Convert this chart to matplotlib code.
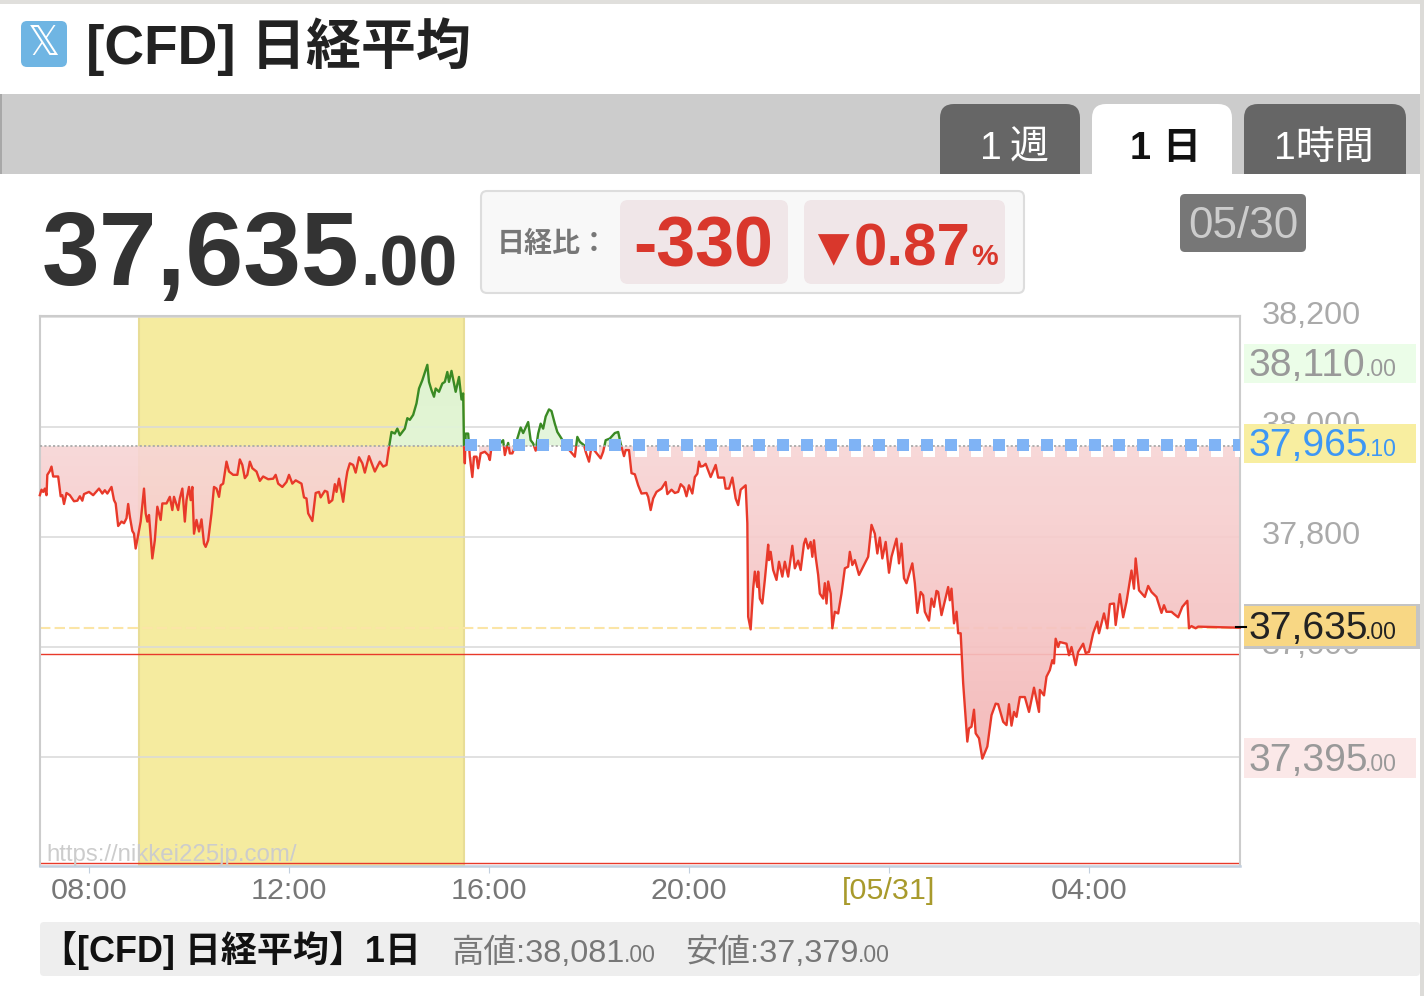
"""[CFD] Nikkei 225 one-day intraday panel, 05/30 07:01 to 05/31 07:01."""
import matplotlib
matplotlib.use("Agg")
import matplotlib.pyplot as plt
import numpy as np
from matplotlib.patches import FancyBboxPatch, Rectangle
from matplotlib.path import Path
from matplotlib.transforms import ScaledTranslation

# minutes since 05/30 00:00, and price
minutes = [
    421, 423, 425, 427, 429, 430, 433, 435, 437, 443, 446, 448, 450, 453, 457, 462, 466, 469, 472, 474,
    480, 485, 492, 496, 499, 502, 507, 510, 512, 515, 519, 522, 525, 527, 529, 532, 534, 536, 539, 542,
    546, 548, 550, 552, 556, 559, 562, 566, 568, 573, 577, 580, 582, 587, 589, 592, 595, 597, 600, 602,
    604, 606, 609, 612, 615, 618, 620, 623, 627, 630, 633, 636, 638, 641, 645, 648, 653, 658, 661, 664,
    667, 670, 673, 676, 681, 685, 689, 695, 701, 704, 707, 712, 717, 720, 724, 728, 735, 738, 741, 743,
    748, 752, 756, 758, 763, 766, 768, 772, 775, 777, 780, 785, 788, 790, 793, 797, 800, 804, 808, 811,
    816, 823, 829, 833, 837, 840, 843, 847, 850, 853, 859, 862, 865, 869, 873, 876, 880, 886, 888, 891,
    894, 896, 900, 904, 907, 910, 912, 915, 920, 924, 927, 929, 930,
    931, 932, 935, 937, 940, 942, 945, 947, 950, 955, 959, 961, 963, 967, 973, 977, 979, 981, 983, 985,
    988, 991, 998, 1001, 1007, 1010, 1013, 1016, 1019, 1022, 1025, 1028, 1032, 1035, 1039, 1042, 1047,
    1053, 1063, 1066, 1069, 1074, 1076, 1080, 1083, 1094, 1097, 1100, 1105, 1111, 1115, 1118, 1122, 1124,
    1128, 1131, 1135, 1139, 1143, 1149, 1151, 1154, 1157, 1161, 1167, 1172, 1174, 1179, 1183, 1187, 1190,
    1194, 1197, 1200, 1204, 1207, 1210, 1212, 1214, 1217, 1220, 1226, 1232, 1235, 1242, 1244, 1248, 1252,
    1256, 1259, 1262, 1268, 1270, 1271, 1274, 1277, 1279, 1282, 1283, 1285, 1288, 1291, 1295, 1296, 1298,
    1301, 1305, 1308, 1312, 1315, 1319, 1324, 1327, 1331, 1334, 1338, 1340, 1343, 1346, 1348, 1350, 1352,
    1355, 1357, 1361, 1363, 1365, 1367, 1370, 1372, 1375, 1379, 1383, 1387, 1391, 1393, 1396, 1399, 1404,
    1411, 1415, 1419, 1423, 1426, 1429, 1432, 1436, 1440, 1443, 1449, 1452, 1455, 1458, 1461, 1468, 1471,
    1474, 1478, 1481, 1483, 1488, 1491, 1494, 1497, 1499, 1503, 1511, 1513, 1515, 1518, 1521, 1523, 1526,
    1529, 1534, 1536, 1539, 1542, 1544, 1548, 1552, 1558, 1563, 1568, 1571, 1577, 1581, 1584, 1587, 1590,
    1593, 1597, 1603, 1608, 1614, 1620, 1621, 1626, 1629, 1633, 1636, 1638, 1640, 1643, 1645, 1653, 1656,
    1659, 1664, 1667, 1673, 1676, 1680, 1685, 1690, 1692, 1698, 1702, 1705, 1710, 1712, 1717, 1721, 1725,
    1731, 1734, 1736, 1740, 1747, 1751, 1755, 1761, 1767, 1770, 1773, 1779, 1782, 1787, 1792, 1798, 1800,
    1803, 1808, 1811, 1861,
]
prices = [
    37876, 37886, 37882, 37888, 37876, 37913, 37920, 37928, 37910, 37910, 37874, 37876, 37860, 37880, 37876, 37865, 37866, 37874, 37866, 37878,
    37882, 37876, 37888, 37879, 37885, 37879, 37891, 37867, 37861, 37820, 37828, 37825, 37834, 37860, 37837, 37811, 37806, 37779, 37803, 37828,
    37888, 37843, 37828, 37840, 37761, 37794, 37855, 37831, 37861, 37861, 37873, 37849, 37873, 37849, 37870, 37888, 37828, 37867, 37891, 37867,
    37891, 37806, 37831, 37810, 37832, 37788, 37782, 37794, 37843, 37891, 37888, 37873, 37894, 37897, 37937, 37919, 37913, 37913, 37941, 37931,
    37907, 37913, 37937, 37925, 37919, 37902, 37910, 37905, 37906, 37913, 37897, 37891, 37900, 37913, 37897, 37903, 37897, 37872, 37870, 37843,
    37829, 37880, 37882, 37872, 37884, 37882, 37862, 37867, 37896, 37882, 37906, 37864, 37900, 37919, 37934, 37931, 37917, 37945, 37934, 37917,
    37947, 37919, 37937, 37928, 37931, 37963, 37991, 37988, 37997, 37985, 37997, 38016, 38013, 38022, 38043, 38070, 38085, 38113, 38082, 38067,
    38055, 38070, 38064, 38079, 38082, 38100, 38082, 38102, 38064, 38091, 38050, 38061, 37964,
    37934, 37988, 37988, 37946, 37909, 37946, 37946, 37925, 37952, 37955, 37949, 37940, 37964, 37976, 37970, 37976, 37949, 37961, 37971, 37952,
    37952, 37964, 37999, 37989, 38009, 37976, 37970, 37957, 37988, 38006, 37997, 38019, 38032, 38029, 38006, 37991, 37979,
    37964, 37946, 37982, 37973, 37967, 37955, 37937, 37964, 37943, 37955, 37976, 37979, 37989, 37991, 37970, 37947, 37958,
    37958, 37916, 37914, 37894, 37879, 37880, 37873, 37849, 37870, 37882, 37888, 37900, 37878, 37886, 37880, 37882, 37896,
    37890, 37874, 37894, 37879, 37909, 37915, 37937, 37928, 37929, 37933, 37909, 37931, 37908, 37908, 37888, 37888, 37908,
    37870, 37858, 37886, 37894, 37825, 37655, 37632, 37706, 37737, 37709, 37737, 37688, 37679, 37722, 37786, 37758, 37773,
    37740, 37722, 37755, 37728, 37755, 37728, 37784, 37743, 37757, 37740, 37788, 37797, 37779, 37791, 37764, 37794, 37764,
    37731, 37697, 37688, 37716, 37679, 37719, 37697, 37634, 37664, 37661, 37697, 37743, 37746, 37773, 37749, 37758, 37731,
    37752, 37764, 37822, 37806, 37770, 37799, 37761, 37791, 37735, 37764, 37797, 37752, 37788, 37725, 37716, 37752, 37716,
    37662, 37700, 37694, 37664, 37648, 37688, 37673, 37702, 37700, 37658, 37709, 37685, 37706, 37643, 37664, 37625, 37625,
    37534, 37428, 37452, 37455, 37486, 37443, 37434, 37397, 37419, 37476, 37497, 37496, 37464, 37458, 37496, 37457, 37482,
    37473, 37509, 37509, 37482, 37526, 37482, 37522, 37512, 37546, 37558, 37576, 37570, 37615, 37600, 37609, 37606, 37585,
    37600, 37567, 37591, 37606, 37589, 37591, 37625, 37646, 37625, 37661, 37634, 37678, 37679, 37640, 37696, 37654, 37682,
    37739, 37706, 37761, 37703, 37691, 37711, 37700, 37691, 37662, 37676, 37664, 37664, 37660, 37654, 37673, 37684, 37634,
    37638, 37634, 37637, 37635,
]

prev_close = 37965.10
last_price = 37635.00
red_levels = [37587, 37208]
session_start, session_end = 540, 930  # 09:00 - 15:30

y_ticks = [37400, 37600, 37800, 38000, 38200]
x_ticks = [480, 720, 960, 1200, 1440, 1680]
x_tick_labels = ["08:00", "12:00", "16:00", "20:00", "[05/31]", "04:00"]

W, H = 1424, 996
RED = "#e8392a"
GREEN = "#3a8a24"

plt.rcParams["font.family"] = ["Liberation Sans", "Noto Sans CJK JP", "DejaVu Sans"]


def txt(ax, x, y, s, px, color, weight="normal", ha="left", va="baseline", **kw):
    # sizes are given as em height in image pixels
    return ax.text(x, y, s, fontsize=px * 0.72, color=color, fontweight=weight, ha=ha, va=va, **kw)


def box(ax, x0, y0, x1, y1, color, r=0, edge="none", lw=0, z=1):
    if r:
        p = FancyBboxPatch((x0 + r, y0 + r), x1 - x0 - 2 * r, y1 - y0 - 2 * r,
                           boxstyle=f"round,pad={r},rounding_size={r}",
                           fc=color, ec=edge, lw=lw, zorder=z)
    else:
        p = Rectangle((x0, y0), x1 - x0, y1 - y0, fc=color, ec=edge, lw=lw, zorder=z)
    ax.add_patch(p)
    return p


def gradient_fill(ax, t, p, where, c_base, c_far, v_far):
    # colour gradient from prev_close to v_far, clipped to the area under the curve
    poly = ax.fill_between(t, p, prev_close, where=where, interpolate=True, color="none", lw=0)
    clip = Path.make_compound_path(*poly.get_paths())
    low, high = sorted([prev_close, v_far])
    frac = np.linspace(0, 1, 256) if v_far > prev_close else np.linspace(1, 0, 256)
    img = np.zeros((256, 1, 4))
    for i in range(3):
        img[:, 0, i] = (c_base[i] + (c_far[i] - c_base[i]) * frac) / 255
    img[:, 0, 3] = 0.92
    im = ax.imshow(img, aspect="auto", origin="lower", zorder=2.5,
                   extent=[t[0], t[-1], low, high], interpolation="bilinear")
    im.set_clip_path(clip, transform=ax.transData)


fig = plt.figure(figsize=(W / 100, H / 100), dpi=100, facecolor="white")

# --- page furniture -----------------------------------------------------------
bg = fig.add_axes([0, 0, 1, 1], zorder=0)
bg.set_xlim(0, W)
bg.set_ylim(H, 0)
bg.axis("off")

box(bg, 0, 0, W, 4, "#e0dfdc")
box(bg, 1420, 0, W, H, "#dcdbd8", z=5)
box(bg, 0, 94, 1420, 174, "#cccccc")
box(bg, 0, 94, 2, 174, "#a8a8a8")
box(bg, 940, 104, 1080, 200, "#666666", r=14, z=2)
box(bg, 1092, 104, 1232, 200, "white", r=14, z=2)
box(bg, 1244, 104, 1406, 200, "#666666", r=14, z=2)
box(bg, 0, 174, 1420, H, "white", z=3)
box(bg, 1092, 165, 1232, 180, "white", z=3)

box(bg, 21, 21, 67, 67, "#6fb5e3", r=6, z=2)
txt(bg, 44, 44, "\U0001D54F", 40, "white", ha="center", va="center", family="DejaVu Sans", zorder=4)
txt(bg, 86, 64, "[CFD] 日経平均", 55, "#222222", weight="bold", zorder=4)

txt(bg, 980, 159, "1", 39, "white", zorder=4)
txt(bg, 1010, 159, "週", 39, "white", zorder=4)
txt(bg, 1130, 159, "1", 38, "#111111", weight="bold", zorder=4)
txt(bg, 1162, 159, "日", 38, "#111111", weight="bold", zorder=4)
txt(bg, 1274, 159, "1時間", 39, "white", zorder=4)

txt(bg, 42, 285, "37,635", 104, "#333333", weight="bold", zorder=4)
txt(bg, 360, 285, ".00", 70, "#333333", weight="bold", zorder=4)

box(bg, 481, 191, 1024, 293, "#f8f8f8", r=6, edge="#dddddd", lw=1.5, z=4)
box(bg, 620, 200, 788, 284, "#f0e6e8", r=8, z=5)
box(bg, 804, 200, 1005, 284, "#f0e6e8", r=8, z=5)
txt(bg, 497, 252, "日経比：", 28, "#777777", weight="bold", zorder=6)
txt(bg, 633, 266, "-330", 70, "#d9372c", weight="bold", zorder=6)
txt(bg, 833, 265, "▼", 54, "#d9372c", ha="center", zorder=6)
txt(bg, 854, 265, "0.87", 60, "#d9372c", weight="bold", zorder=6)
txt(bg, 971, 265, "%", 30, "#d9372c", weight="bold", zorder=6)

box(bg, 1180, 194, 1306, 252, "#777777", r=5, z=4)
txt(bg, 1243, 226, "05/30", 44, "#cccccc", ha="center", va="center", zorder=6)

box(bg, 40, 922, 1420, 976, "#eeeeee", r=4, z=4)
txt(bg, 41, 962, "【[CFD] 日経平均】1日", 36, "#111111", weight="bold", zorder=6)
txt(bg, 452, 962, "高値:38,081", 32.5, "#777777", zorder=6)
txt(bg, 624, 962, ".00", 23, "#777777", zorder=6)
txt(bg, 685, 962, "安値:37,379", 32.5, "#777777", zorder=6)
txt(bg, 858, 962, ".00", 23, "#777777", zorder=6)

# --- chart --------------------------------------------------------------------
ax = fig.add_axes([40 / W, 1 - 866 / H, 1200 / W, 550 / H], zorder=2, facecolor="white")
t = np.array(minutes, dtype=float)
p = np.array(prices, dtype=float)

ax.axvspan(session_start, session_end, fc="#f5eb9f", ec="#e8dd96", lw=1.5, zorder=0.4)
ax.axhline(last_price, color="#fbe5a6", lw=1.5, dashes=(5, 2), zorder=1.5)
for lv in red_levels:
    ax.axhline(lv, color=RED, lw=1.0, zorder=1.6)

gradient_fill(ax, t, p, p <= prev_close, (248, 214, 214), (244, 182, 182), 37395)
gradient_fill(ax, t, p, p >= prev_close, (226, 246, 218), (222, 244, 214), 38110)

# white shadow under the dotted previous-close line
ax.plot([session_end + 3.6, t[-1] + 2], [prev_close - 9, prev_close - 9], color="white",
        lw=12 * 0.72, dashes=(1, 1), dash_capstyle="butt", zorder=3)

lo, = ax.plot(t, p, color=RED, lw=1.7, zorder=4, solid_joinstyle="round")
hi, = ax.plot(t, p, color=GREEN, lw=1.7, zorder=4, solid_joinstyle="round")
lo.set_clip_path(Rectangle((t[0] - 10, 37202), 1500, prev_close - 37202, transform=ax.transData))
hi.set_clip_path(Rectangle((t[0] - 10, prev_close), 1500, 300, transform=ax.transData))

ax.axhline(prev_close, color="#aaaaaa", lw=1.3, dashes=(1.2, 1.2), zorder=4.5)
ax.plot([session_end + 1, t[-1] + 2], [prev_close + 2, prev_close + 2], color="#7fb3f5",
        lw=12 * 0.72, dashes=(1, 1), dash_capstyle="butt", zorder=5)

txt(ax, 46, 861, "https://nikkei225jp.com/", 24, "#cccccc", zorder=6,
    transform=bg.transData, clip_on=False)

ax.set_xlim(421.2, 1861.2)
ax.set_ylim(37201.8, 38201.8)
ax.set_axisbelow(True)
ax.grid(axis="y", color="#d9d9d9", lw=1.1)
ax.set_yticks(y_ticks)
ax.set_yticklabels([f"{v:,}" for v in y_ticks])
ax.yaxis.tick_right()
ax.tick_params(axis="y", length=0, pad=15.5, labelsize=32.5 * 0.72, labelcolor="#aaaaaa")
for lab in ax.get_yticklabels():
    lab.set_transform(lab.get_transform() + ScaledTranslation(0, 0.045, fig.dpi_scale_trans))
ax.set_xticks(x_ticks)
ax.set_xticklabels(x_tick_labels)
ax.tick_params(axis="x", length=5, width=0.8, color="#c3d0df", pad=3, labelsize=30.5 * 0.72, labelcolor="#777777")
ax.get_xticklabels()[4].set_color("#a89a2c")
for name in ["left", "top", "right"]:
    ax.spines[name].set_color("#cccccc")
    ax.spines[name].set_linewidth(1.5)
ax.spines["bottom"].set_color("#c3d0df")
ax.spines["bottom"].set_linewidth(1.8)

# --- price flags on the right edge ----------------------------------------------
top = fig.add_axes([0, 0, 1, 1], zorder=3)
top.set_xlim(0, W)
top.set_ylim(H, 0)
top.axis("off")


def flag(y0, y1, fc, fg, whole, dec):
    box(top, 1244, y0, 1416, y1, fc)
    txt(top, 1248, y1 - 7, whole, 39, fg, zorder=3)
    txt(top, 1365, y1 - 7, dec, 23, fg, zorder=3)


flag(344, 383, "#ebfde8", "#999999", "38,110", ".00")
flag(424, 463, "#f8eea0", "#3d97f5", "37,965", ".10")
box(top, 1244, 604, 1420, 649, "#c4c4c4")
flag(606, 646, "#f8d784", "#222222", "37,635", ".00")
flag(738, 778, "#fbe8e8", "#999999", "37,395", ".00")
top.plot([1236, 1246], [627, 627], color="black", lw=1.5)

fig.savefig("out.png", dpi=100)
plt.close(fig)
